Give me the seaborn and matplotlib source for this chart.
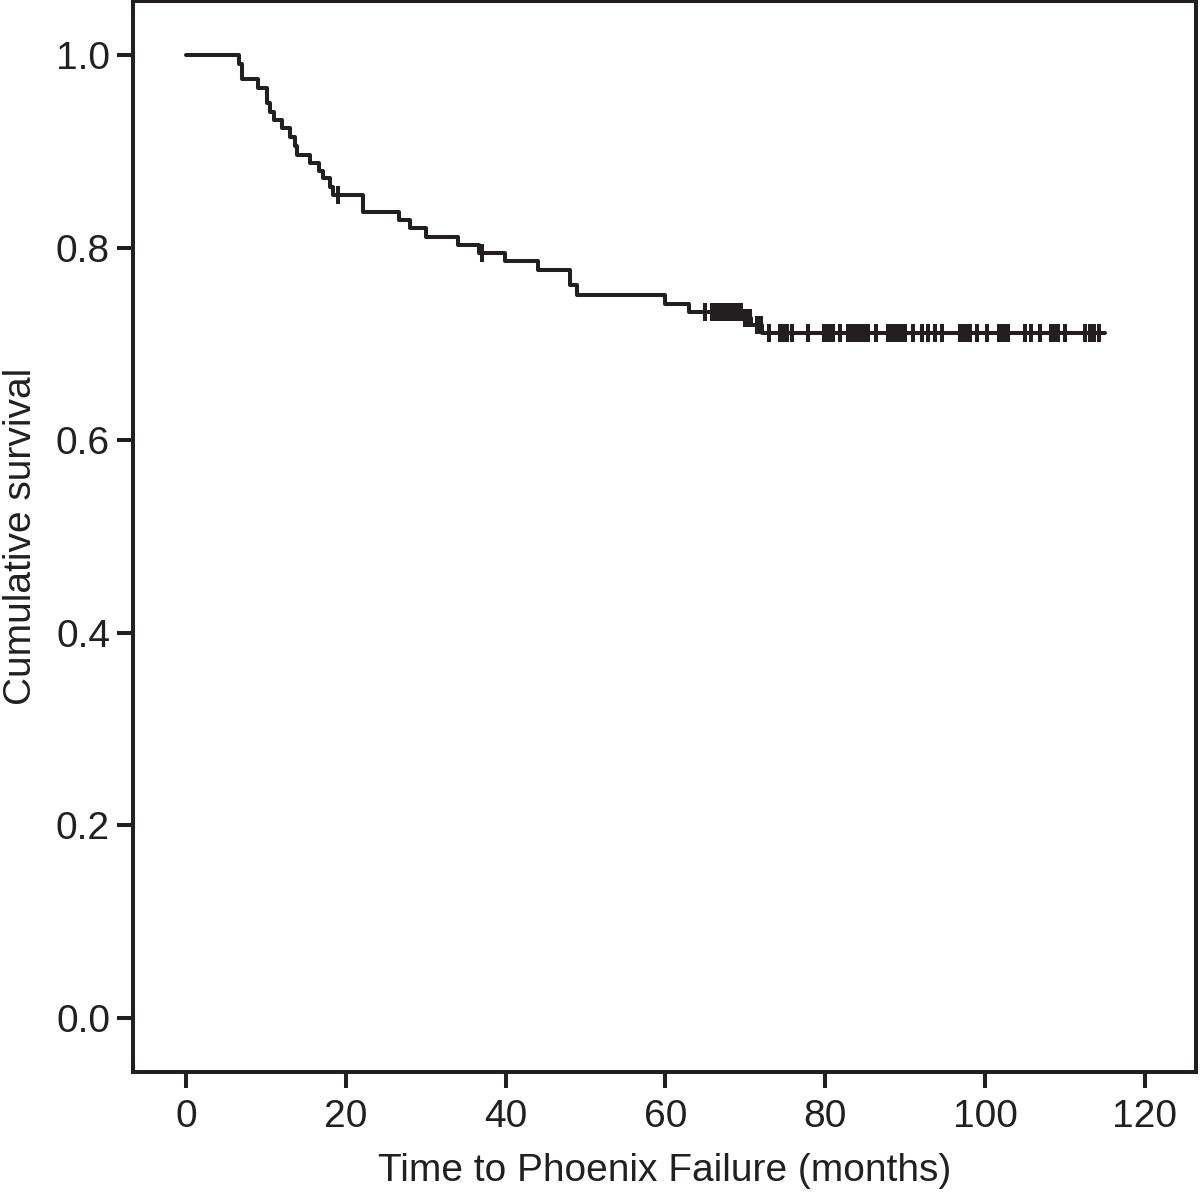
import numpy as np
import pandas as pd
import matplotlib
matplotlib.use("Agg")
import matplotlib.pyplot as plt
import seaborn as sns

# Kaplan-Meier step curve
step_times = [0, 6.7, 7.0, 9.0, 10.1, 10.5, 11.0, 12.0, 13.0, 13.6, 13.9, 15.5, 16.6,
              17.2, 18.0, 18.4, 22.1, 26.6, 28.0, 30.0, 34.1, 36.7, 39.9, 44.0, 48.1,
              48.9, 59.9, 62.9, 69.7, 70.7, 72.1, 115.0]
step_surv = [1.0, 0.991, 0.975, 0.966, 0.950, 0.941, 0.933, 0.924, 0.915, 0.906, 0.896,
             0.888, 0.880, 0.872, 0.863, 0.855, 0.837, 0.829, 0.820, 0.811, 0.803, 0.795,
             0.786, 0.777, 0.761, 0.751, 0.742, 0.733, 0.727, 0.720, 0.711, 0.711]

# censored observations (months)
censor_times = [19.0, 37.0, 65.0, 65.8, 66.2, 66.6, 67.0, 67.4, 67.8, 68.2, 68.6, 69.0,
                69.4, 69.9, 70.3, 70.6, 71.5, 71.9, 72.9, 74.3, 74.8, 75.2, 75.9, 77.9,
                79.8, 80.2, 80.6, 81.0, 81.9, 82.9, 83.3, 83.7, 84.1, 84.6, 85.0, 85.4,
                86.4, 87.9, 88.3, 88.7, 89.1, 89.6, 90.0, 91.0, 92.1, 92.9, 93.7, 94.6,
                96.9, 97.3, 97.7, 98.1, 99.0, 100.2, 101.7, 102.1, 102.5, 102.9, 105.0,
                105.8, 106.9, 108.3, 108.7, 109.1, 110.0, 112.5, 113.1, 113.6, 114.2]

x_ticks = [0, 20, 40, 60, 80, 100, 120]
y_ticks = [0.0, 0.2, 0.4, 0.6, 0.8, 1.0]

ink = "#231f20"

sns.set_theme(style="ticks")
plt.rcParams["font.family"] = ["Liberation Sans", "DejaVu Sans"]

curve = pd.DataFrame({"t": step_times, "s": step_surv})
# survival level at each censor time
idx = np.searchsorted(np.array(step_times), np.array(censor_times), side="right") - 1
cens = pd.DataFrame({"t": censor_times, "s": np.array(step_surv)[idx]})

fig = plt.figure(figsize=(12, 11.94), dpi=100)
ax = fig.add_axes([0.1108, 0.1022, 0.8859, 0.8968])

sns.lineplot(data=curve, x="t", y="s", drawstyle="steps-post", estimator=None,
             color=ink, linewidth=2.9, ax=ax)
ax.plot(cens["t"], cens["s"], linestyle="none", marker="|", markersize=12.5,
        markeredgewidth=2.9, color=ink)

ax.set_xlim(-6.63, 126.4)
ax.set_ylim(-0.056, 1.056)
ax.set_xticks(x_ticks)
ax.set_xticklabels([str(v) for v in x_ticks])
ax.set_yticks(y_ticks)
ax.set_yticklabels([f"{v:.1f}" for v in y_ticks])

for sp in ax.spines.values():
    sp.set_visible(True)
    sp.set_linewidth(2.9)
    sp.set_color(ink)

ax.tick_params(axis="both", direction="out", length=11.5, width=2.9, colors=ink,
               labelsize=28, labelcolor=ink)
ax.tick_params(axis="x", pad=8)
ax.tick_params(axis="y", pad=5)

ax.set_xlabel("Time to Phoenix Failure (months)", fontsize=28, color=ink, labelpad=13)
ax.set_ylabel("Cumulative survival", fontsize=28, color=ink, labelpad=12)

fig.savefig("out.png", dpi=100, facecolor="white")
